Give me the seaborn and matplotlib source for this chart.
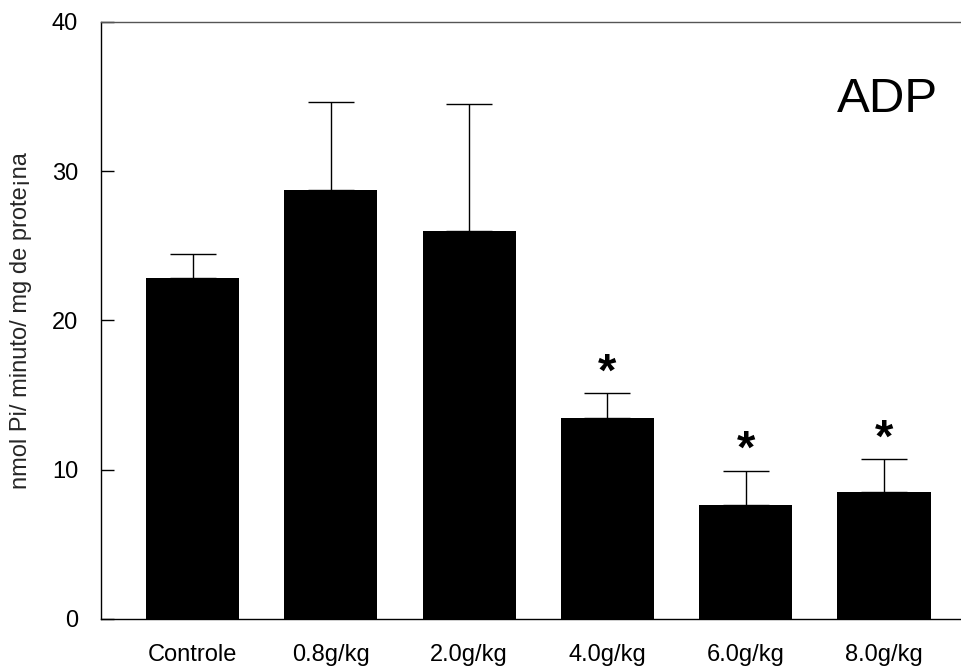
import matplotlib
matplotlib.use("Agg")
import matplotlib.pyplot as plt
import seaborn as sns
import pandas as pd
import numpy as np

categories = ["Controle", "0.8g/kg", "2.0g/kg", "4.0g/kg", "6.0g/kg", "8.0g/kg"]
means = [22.87, 28.74, 25.98, 13.45, 7.64, 8.53]
err_upper = [1.57, 5.88, 8.52, 1.69, 2.30, 2.19]
significant = [False, False, False, True, True, True]
yticks = [0, 10, 20, 30, 40]
ylabel = "nmol Pi/ minuto/ mg de prote\u00a1na"
panel_label = "ADP"

sns.set_theme(style="white")
plt.rcParams["font.family"] = ["Liberation Sans", "DejaVu Sans"]

df = pd.DataFrame({"group": categories, "value": means})

fig = plt.figure(figsize=(9.62, 6.68), dpi=100)
ax = fig.add_axes([0.105, 0.0734, 0.895, 0.8937])

sns.barplot(data=df, x="group", y="value", color="black", width=0.673,
            linewidth=0, saturation=1, ax=ax, errorbar=None)

x = np.arange(len(categories))
ax.errorbar(x, means, yerr=[np.zeros(len(means)), err_upper], fmt="none",
            ecolor="black", elinewidth=1.0, capsize=16.8, capthick=1.0, zorder=3)

for xi, m, e, s in zip(x, means, err_upper, significant):
    if s:
        ax.text(xi, m + e + 1.3, "*", ha="center", va="center",
                fontsize=34, fontweight="bold", color="black")

ax.text(5.39, 34.0, panel_label, ha="right", va="baseline", fontsize=35.5, color="black")

ax.set_xlim(-0.662, 5.564)
ax.set_ylim(0, 40)
ax.set_yticks(yticks)
ax.set_yticklabels([str(t) for t in yticks])
ax.set_xlabel("")
ax.set_ylabel(ylabel, fontsize=17)
ax.yaxis.set_label_coords(-0.080, 0.5)

ax.tick_params(axis="y", direction="in", length=9, width=1, pad=16.5,
               labelsize=17, colors="black", left=True)
ax.tick_params(axis="x", length=0, pad=18, labelsize=17, colors="black")

for side in ["left", "bottom", "top"]:
    ax.spines[side].set_visible(True)
    ax.spines[side].set_color("black")
    ax.spines[side].set_linewidth(1.0)
ax.spines["top"].set_color("#555555")
ax.spines["right"].set_visible(False)

fig.savefig("out.png", dpi=100, facecolor="white")
